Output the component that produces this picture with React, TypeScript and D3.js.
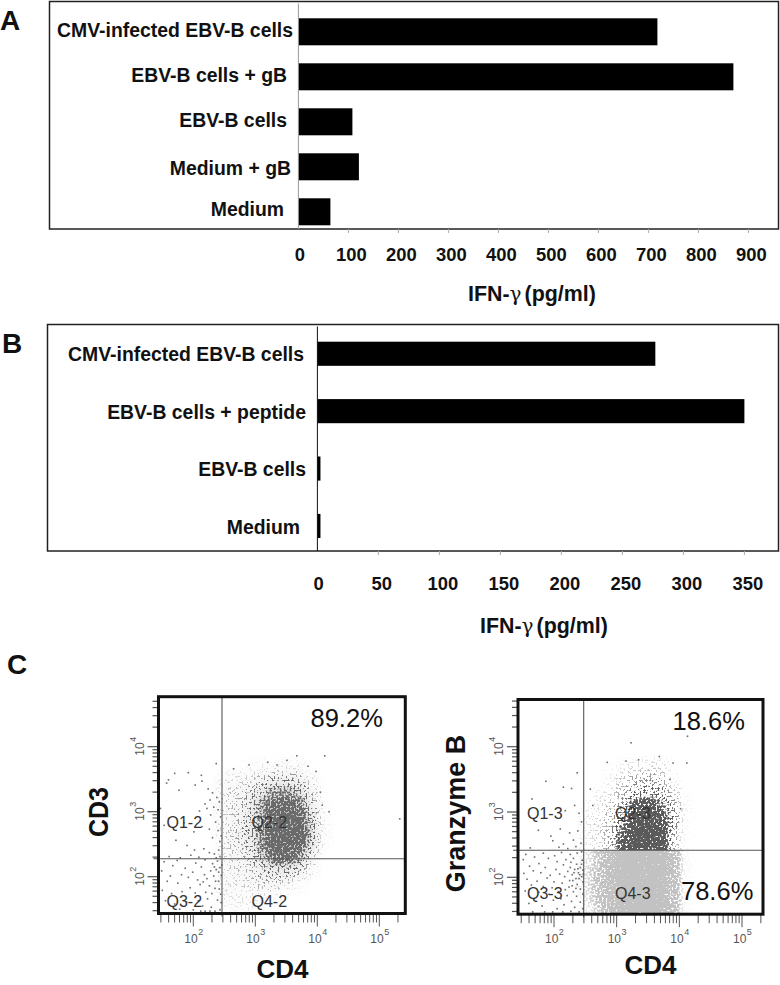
import React from "react";
import * as d3 from "d3";

// ---------- Panel A ----------
const catsA = ["CMV-infected EBV-B cells", "EBV-B cells + gB", "EBV-B cells", "Medium + gB", "Medium"];
const valsA = [718, 870, 108, 121, 64];
const labelRightA = [293, 287, 287, 291, 284];
const labelBaseA = [36.7, 81.5, 126.5, 175, 216];
const ticksA = [0, 100, 200, 300, 400, 500, 600, 700, 800, 900];

// ---------- Panel B ----------
const catsB = ["CMV-infected EBV-B cells", "EBV-B cells + peptide", "EBV-B cells", "Medium"];
const valsB = [277, 350, 2.5, 2.5];
const labelRightB = [304, 306, 306, 300];
const labelBaseB = [361, 419, 476, 534];
const ticksB = [0, 50, 100, 150, 200, 250, 300, 350];

// ---------- Panel C: flow cytometry, values in log10 units ----------
const gridX = [2.5, 2.7, 2.9, 3.1, 3.3, 3.5, 3.7, 3.9, 4.1];
const gridY1 = [3.7, 3.5, 3.3, 3.1, 2.9, 2.7, 2.5, 2.3, 2.1, 1.9, 1.7, 1.5];
const density1 = [
  [0, 0, 0.02, 0.03, 0.04, 0.05, 0.03, 0, 0],
  [0.05, 0.07, 0.09, 0.16, 0.24, 0.26, 0.22, 0.06, 0],
  [0.1, 0.12, 0.2, 0.36, 0.52, 0.55, 0.42, 0.16, 0.01],
  [0.1, 0.14, 0.25, 0.5, 0.8, 0.88, 0.7, 0.26, 0.02],
  [0.1, 0.16, 0.28, 0.55, 0.95, 1, 0.92, 0.36, 0.03],
  [0.1, 0.16, 0.28, 0.6, 1, 1, 1, 0.44, 0.03],
  [0.1, 0.15, 0.26, 0.55, 1, 1, 0.92, 0.36, 0.02],
  [0.08, 0.12, 0.2, 0.4, 0.66, 0.76, 0.55, 0.16, 0],
  [0.08, 0.1, 0.15, 0.24, 0.34, 0.34, 0.25, 0.05, 0],
  [0.08, 0.08, 0.1, 0.15, 0.16, 0.1, 0.04, 0, 0],
  [0.05, 0.06, 0.05, 0.06, 0.04, 0.01, 0, 0, 0],
  [0.02, 0.03, 0.03, 0.02, 0.01, 0, 0, 0, 0],
];
const gridY2Dark = [3.7, 3.5, 3.3, 3.1, 2.9, 2.7, 2.5, 2.3];
const density2Dark = [
  [0, 0, 0.01, 0.03, 0.06, 0.08, 0.07, 0.01, 0],
  [0, 0, 0.03, 0.1, 0.16, 0.18, 0.16, 0.03, 0],
  [0, 0.03, 0.06, 0.15, 0.24, 0.28, 0.26, 0.12, 0.01],
  [0.02, 0.05, 0.1, 0.22, 0.66, 0.88, 0.5, 0.2, 0.02],
  [0.04, 0.07, 0.14, 0.32, 0.95, 1, 0.8, 0.25, 0.02],
  [0.04, 0.08, 0.16, 0.55, 1, 1, 0.95, 0.2, 0.01],
  [0.03, 0.07, 0.16, 0.7, 1, 1, 1, 0.16, 0.01],
  [0.03, 0.07, 0.16, 0.7, 1, 1, 1, 0.16, 0.01],
];
const gridY2Light = [2.5, 2.3, 2.1, 1.9, 1.7, 1.5];
const density2Light = [
  [0.1, 0.26, 0.65, 1, 1, 1, 1, 0.5, 0.04],
  [0.1, 0.26, 0.65, 1, 1, 1, 1, 0.5, 0.04],
  [0.14, 0.3, 0.7, 1, 1, 1, 1, 0.5, 0.03],
  [0.14, 0.32, 0.7, 1, 1, 1, 1, 0.5, 0.03],
  [0.12, 0.3, 0.7, 1, 1, 1, 1, 0.5, 0.03],
  [0.08, 0.22, 0.6, 1, 1, 1, 1, 0.45, 0.02],
];
const sparse1 = [
  [1.6,3.49],[1.7,3.59],[1.92,3.6],[2.13,3.56],[2.37,3.74],[1.57,3.44],[1.77,3.33],[2.03,3.41],[2.14,3.47],[2.24,3.35],
  [2.31,3.29],[2.38,3.22],[2.42,3.15],[2.27,3.18],[2.19,3.12],[2.33,3.07],[2.4,3.03],[2.1,3.01],[2.22,3.05],[2.28,2.95],
  [2.44,2.92],[2.36,2.84],[1.47,3.05],[1.85,2.83],[2.01,2.69],[2.14,2.77],[2.26,2.73],[2.4,2.71],[2.31,2.6],[2.43,2.54],
  [1.53,2.79],[1.72,2.56],[1.9,2.48],[2.02,2.41],[2.17,2.43],[2.26,2.37],[2.34,2.35],[1.61,2.31],[1.79,2.29],[1.96,2.33],
  [2.09,2.3],[2.37,2.29],[2.43,2.31],[2.41,2.41],[2.45,2.63],
  [1.53,2.23],[1.67,2.17],[1.74,2.25],[1.87,2.13],[2.04,2.21],[2.19,2.26],[2.31,2.2],[2.39,2.24],[2.43,2.14],[2.37,2.11],
  [2.28,2.09],[2.13,2.15],[1.99,2.07],[1.81,2.03],[1.63,2.01],[1.49,2.09],[1.58,1.93],[1.75,1.9],[1.92,1.99],[2.07,1.95],
  [2.18,2.03],[2.33,2.01],[2.45,2.02],[2.41,1.93],[2.26,1.86],[2.11,1.88],[1.95,1.83],[1.82,1.77],[1.65,1.74],[1.5,1.79],
  [2.03,1.75],[2.2,1.76],[2.35,1.82],[2.44,1.73],[2.39,1.64],[2.23,1.66],[2.08,1.63],[1.89,1.61],[1.7,1.58],[1.55,1.63],
  [1.78,1.5],[2.0,1.49],[2.15,1.55],[2.29,1.53],[2.43,1.49],[2.19,1.47],[2.27,1.47],[2.35,1.47],[2.12,1.47],[2.45,1.6],
  [2.22,1.97],[2.36,1.93],[2.3,1.74],[2.42,1.81],[2.46,2.18],[2.34,2.15],[2.16,1.92],[2.41,2.07],
  [4.12,3.86],[5.33,2.89],[4.19,3.0],[3.51,3.79],[3.67,3.86],[3.98,3.62],[4.08,3.1],[4.05,3.3],[2.65,3.66],[2.9,3.72],
  [3.2,3.76],[3.35,3.72],[3.85,3.7],
];
const sparse2 = [
  [2.37,3.6],[1.87,3.47],[2.15,3.38],[2.28,3.36],[1.65,3.2],[2.33,3.1],[2.18,3.02],[2.4,2.98],[2.44,2.85],[1.75,2.72],
  [1.95,2.63],[2.1,2.74],[2.25,2.68],[2.38,2.71],[1.98,2.56],[2.15,2.51],[2.31,2.57],[2.43,2.52],[2.08,2.46],[2.22,2.44],
  [1.62,2.45],[2.35,2.47],
  [1.55,2.35],[1.69,2.31],[1.83,2.37],[2.01,2.33],[2.12,2.38],[2.26,2.35],[2.37,2.37],[2.44,2.39],[2.31,2.29],[2.19,2.27],
  [2.05,2.24],[1.91,2.29],[1.76,2.21],[1.51,2.27],[1.61,2.17],[1.86,2.15],[2.03,2.12],[2.15,2.19],[2.27,2.23],[2.36,2.2],
  [2.45,2.26],[2.42,2.15],[2.33,2.12],[2.22,2.09],[2.09,2.05],[1.94,2.03],[1.79,2.07],[1.67,2.1],[1.52,2.06],[1.57,1.97],
  [1.73,1.94],[1.89,1.99],[2.0,1.93],[2.17,2.01],[2.29,2.04],[2.39,2.07],[2.46,2.11],[2.44,2.01],[2.35,1.98],[2.25,1.95],
  [2.13,1.91],[1.97,1.84],[1.83,1.86],[1.64,1.88],[2.37,1.89],[2.46,1.93],[2.29,1.87],[2.18,1.81],[2.07,1.78],[1.92,1.74],
  [1.76,1.77],[1.54,1.79],[2.31,1.78],[2.42,1.82],[2.21,1.72],[2.36,1.71],[2.46,1.74],[2.11,1.67],[1.99,1.65],[2.28,1.63],
  [2.42,1.62],[2.16,1.58],[1.6,1.6],[1.81,1.56],[2.05,1.52],[2.33,1.54],[2.46,1.52],[1.66,1.47],[1.85,1.47],[1.98,1.47],
  [2.14,1.47],[2.27,1.48],[2.4,1.47],[2.38,2.13],[2.41,2.04],[2.32,2.07],[2.26,2.15],[2.44,2.2],[2.35,1.83],[2.24,1.85],
  [2.4,1.98],[2.47,2.05],[2.3,1.95],
  [3.23,4.06],[4.13,4.16],[3.68,3.85],[3.9,3.75],[4.12,3.75],[2.85,3.76],[3.15,3.78],[3.35,3.8],[2.58,3.35],[2.62,3.1],
  [3.85,3.5],[4.02,3.05],
];
const quadrantLabels1 = ["Q1-2", "Q2-2", "Q3-2", "Q4-2"];
const quadrantLabels2 = ["Q1-3", "Q2-3", "Q3-3", "Q4-3"];
const decades = [2, 3, 4, 5];
const yDecades = [2, 3, 4];

const FF = "'Liberation Sans', Arial, sans-serif";

function Bars({ cats, vals, ticks, x, y, box, labelRight, labelBase, titleX, titleY, tickLabelY, tickShift, axisColor }: any) {
  return (
    <g fontFamily={FF}>
      <rect x={box.l} y={box.t} width={box.r - box.l} height={box.b - box.t} fill="none" stroke="#222" strokeWidth={1.5} />
      {cats.map((c: string, i: number) => (
        <rect key={c} x={x(0)} y={y(c)} width={x(vals[i]) - x(0)} height={y.bandwidth()} fill="#000" />
      ))}
      <line x1={x(0)} x2={x(0)} y1={box.t + 2} y2={box.b} stroke={axisColor} strokeWidth={1} />
      {ticks.map((t: number) => (
        <g key={t}>
          {t > 0 && <line x1={x(t)} x2={x(t)} y1={box.b} y2={box.b + 4} stroke="#aaa" />}
          <text x={x(t) + tickShift(t)} y={tickLabelY} textAnchor="middle" fontWeight="bold" fontSize={18.4} fill="#111">{t}</text>
        </g>
      ))}
      {cats.map((c: string, i: number) => (
        <text key={c} x={labelRight[i]} y={labelBase[i]} textAnchor="end" fontWeight="bold" fontSize={19.4} fill="#111">{c}</text>
      ))}
      <text x={titleX} y={titleY} fontWeight="bold" fontSize={21.4} fill="#111">
        IFN-<tspan fontFamily="'DejaVu Serif', serif" fontWeight="normal" fontSize={20}>γ</tspan><tspan dx={3}>(pg/ml)</tspan>
      </text>
    </g>
  );
}

function DensityCells({ xs, ys, grid, sx, sy, fill, opacity = 1 }: any) {
  const hw = 0.1;
  return (
    <>
      {ys.flatMap((yv: number, r: number) =>
        xs.map((xv: number, c: number) => {
          const d = grid[r][c];
          if (!d) return null;
          const x0 = sx(10 ** (xv - hw));
          const x1 = sx(10 ** (xv + hw));
          const y0 = sy(10 ** (yv + hw));
          const y1 = sy(10 ** (yv - hw));
          return <rect key={`${r}-${c}`} x={x0} y={y0} width={x1 - x0} height={y1 - y0} fill={fill} fillOpacity={d * opacity} />;
        })
      )}
    </>
  );
}

function Stipple({ id, color, box, seed, blur, offset }: any) {
  // Grain is only a rendering texture over the density cells above; it carries no data.
  return (
    <filter id={id} filterUnits="userSpaceOnUse" x={box.l} y={box.t} width={box.r - box.l} height={box.b - box.t} colorInterpolationFilters="sRGB">
      <feGaussianBlur in="SourceAlpha" stdDeviation={blur} result="d" />
      <feTurbulence type="fractalNoise" baseFrequency="0.5" numOctaves={1} seed={seed} result="t" />
      <feColorMatrix in="t" type="matrix" values={`0 0 0 0 0  0 0 0 0 0  0 0 0 0 0  2.8 0 0 0 ${offset}`} result="n" />
      <feComposite in="n" in2="d" operator="arithmetic" k1={0} k2={1} k3={1} k4={-1} result="s" />
      <feComponentTransfer in="s" result="m"><feFuncA type="linear" slope={4} /></feComponentTransfer>
      <feFlood floodColor={color} />
      <feComposite in2="m" operator="in" />
      <feGaussianBlur stdDeviation={0.4} />
    </filter>
  );
}

function Flow({ id, box, sx, sy, gateX, gateY, labels, qx, qy, sparse, children, defs }: any) {
  const xT = sx.ticks();
  const yT = sy.ticks();
  const isMajor = (t: number) => Math.abs(Math.log10(t) - Math.round(Math.log10(t))) < 1e-6;
  return (
    <g fontFamily={FF}>
      <defs>
        <clipPath id={`${id}-clip`}><rect x={box.l} y={box.t} width={box.r - box.l} height={box.b - box.t} /></clipPath>
        {defs}
      </defs>
      <g clipPath={`url(#${id}-clip)`}>
        {children}
        {sparse.map((p: number[], i: number) => (
          <rect key={i} x={sx(10 ** p[0]) - 0.8} y={sy(10 ** p[1]) - 0.8} width={1.6} height={1.6} fill="#4a4a4a" fillOpacity={0.8} />
        ))}
      </g>
      {labels.map((l: string, i: number) => (
        <text key={l} x={qx[i % 2]} y={qy[i < 2 ? 0 : 1]} fontSize={16} fill="#333">{l}</text>
      ))}
      <line x1={gateX} x2={gateX} y1={box.t} y2={box.b + 3} stroke="#555" strokeWidth={1.1} />
      <line x1={box.l - 5} x2={box.r} y1={gateY} y2={gateY} stroke="#555" strokeWidth={1.1} />
      {xT.map((t: number, i: number) => (
        <line key={i} x1={sx(t)} x2={sx(t)} y1={box.b} y2={box.b + (isMajor(t) ? 13 : 9)} stroke="#555" strokeWidth={1} />
      ))}
      {yT.map((t: number, i: number) => (
        <line key={i} x1={box.l} x2={box.l - (isMajor(t) ? 11 : 6)} y1={sy(t)} y2={sy(t)} stroke="#555" strokeWidth={1.2} />
      ))}
      {decades.map((d) => (
        <text key={d} x={sx(10 ** d) - 9} y={box.b + 29} fontSize={12} fill="#555">
          10<tspan dx={0.5} dy={-8} fontSize={9}>{d}</tspan>
        </text>
      ))}
      {yDecades.map((d) => (
        <text key={d} transform={`translate(${box.l - 15},${sy(10 ** d) + 9}) rotate(-90)`} fontSize={12} fill="#555">
          10<tspan dx={0.5} dy={-8} fontSize={9}>{d}</tspan>
        </text>
      ))}
      <rect x={box.l} y={box.t} width={box.r - box.l} height={box.b - box.t} fill="none" stroke="#111" strokeWidth={3} />
    </g>
  );
}

export default function App() {
  const boxA = { l: 49.5, r: 778.5, t: 1.5, b: 229 };
  const xA = d3.scaleLinear().domain([0, 900]).range([298.4, 748.4]);
  const yA = d3.scaleBand().domain(catsA).range([18.3, 225.3]).paddingInner(0.4).paddingOuter(0);

  const boxB = { l: 47.5, r: 778.5, t: 324.5, b: 551 };
  const xB = d3.scaleLinear().domain([0, 350]).range([317.4, 744.4]);
  const yB = d3.scaleBand().domain(catsB).range([341.7, 538]).paddingInner(0.58).paddingOuter(0);

  const box1 = { l: 158.5, r: 405.3, t: 696.7, b: 913.5 };
  const sx1 = d3.scaleLog().domain([10 ** 2, 10 ** 5]).range([193.3, 379.3]);
  const sy1 = d3.scaleLog().domain([10 ** 2, 10 ** 4]).range([876.7, 746.7]);
  const sx1a = d3.scaleLog().domain([sx1.invert(box1.l), sx1.invert(box1.r)]).range([box1.l, box1.r]);
  const sy1a = d3.scaleLog().domain([sy1.invert(box1.b), sy1.invert(box1.t)]).range([box1.b, box1.t]);

  const box2 = { l: 518, r: 763, t: 699.5, b: 914.2 };
  const sx2 = d3.scaleLog().domain([10 ** 2, 10 ** 5]).range([554, 742]);
  const sy2 = d3.scaleLog().domain([10 ** 2, 10 ** 4]).range([877.3, 746.7]);
  const sx2a = d3.scaleLog().domain([sx2.invert(box2.l), sx2.invert(box2.r)]).range([box2.l, box2.r]);
  const sy2a = d3.scaleLog().domain([sy2.invert(box2.b), sy2.invert(box2.t)]).range([box2.b, box2.t]);
  const gate2Y = 850.3;

  return (
    <svg width={780} height={985} style={{ position: "absolute", left: 0, top: 0, background: "#fff" }}>
      <defs>
        <filter id="soft" filterUnits="userSpaceOnUse" x={0} y={680} width={780} height={305}>
          <feGaussianBlur stdDeviation={4} />
        </filter>
      </defs>

      <g fontFamily={FF} fontWeight="bold" fontSize={28} fill="#111">
        <text x={0} y={30}>A</text>
        <text x={2} y={353}>B</text>
        <text x={7} y={674}>C</text>
      </g>

      <Bars cats={catsA} vals={valsA} ticks={ticksA} x={xA} y={yA} box={boxA} labelRight={labelRightA} labelBase={labelBaseA}
        titleX={468} titleY={301} tickLabelY={261} tickShift={(t: number) => (t === 0 ? 1.5 : 3)} axisColor="#999" />
      <Bars cats={catsB} vals={valsB} ticks={ticksB} x={xB} y={yB} box={boxB} labelRight={labelRightB} labelBase={labelBaseB}
        titleX={480} titleY={633} tickLabelY={590} tickShift={(t: number) => (t === 0 ? 1.2 : 3.4)} axisColor="#111" />

      <Flow id="f1" box={box1} sx={sx1a} sy={sy1a} gateX={222} gateY={858.7} labels={quadrantLabels1} qx={[166.5, 251.5]} qy={[828, 906.5]} sparse={sparse1}
        defs={<Stipple id="st1" color="#6a6a6a" box={box1} seed={4} blur={3.5} offset={-0.8} />}>
        <g filter="url(#soft)"><DensityCells xs={gridX} ys={gridY1} grid={density1} sx={sx1a} sy={sy1a} fill="#8a8a8a" opacity={0.5} /></g>
        <g filter="url(#st1)"><DensityCells xs={gridX} ys={gridY1} grid={density1} sx={sx1a} sy={sy1a} fill="#000" /></g>
      </Flow>
      <text x={310.5} y={726.5} fontFamily={FF} fontSize={25.5} fill="#111">89.2%</text>
      <text transform="translate(108,812) rotate(-90)" textAnchor="middle" fontFamily={FF} fontWeight="bold" fontSize={28} textLength={50} lengthAdjust="spacingAndGlyphs" fill="#111">CD3</text>
      <text x={282.5} y={977.5} textAnchor="middle" fontFamily={FF} fontWeight="bold" fontSize={26} fill="#111">CD4</text>

      <Flow id="f2" box={box2} sx={sx2a} sy={sy2a} gateX={583.7} gateY={gate2Y} labels={quadrantLabels2} qx={[527, 615]} qy={[819, 899]} sparse={sparse2}
        defs={
          <>
            <Stipple id="st2d" color="#5a5a5a" box={box2} seed={9} blur={3} offset={-0.72} />
            <Stipple id="st2l" color="#c2c2c2" box={box2} seed={12} blur={3.5} offset={-0.5} />
            <clipPath id="f2-upper"><rect x={box2.l} y={box2.t} width={box2.r - box2.l} height={gate2Y - box2.t} /></clipPath>
            <clipPath id="f2-lower"><rect x={box2.l} y={gate2Y} width={box2.r - box2.l} height={box2.b - gate2Y} /></clipPath>
          </>
        }>
        <g clipPath="url(#f2-lower)">
          <g filter="url(#st2l)"><DensityCells xs={gridX} ys={gridY2Light} grid={density2Light} sx={sx2a} sy={sy2a} fill="#000" /></g>
        </g>
        <g clipPath="url(#f2-upper)">
          <g filter="url(#st2d)"><DensityCells xs={gridX} ys={gridY2Dark} grid={density2Dark} sx={sx2a} sy={sy2a} fill="#000" /></g>
        </g>
      </Flow>
      <text x={672.5} y={730} fontFamily={FF} fontSize={25.5} fill="#111">18.6%</text>
      <text x={681} y={900} fontFamily={FF} fontSize={25.5} fill="#111">78.6%</text>
      <text transform="translate(465,813.5) rotate(-90)" textAnchor="middle" fontFamily={FF} fontWeight="bold" fontSize={27} fill="#111">Granzyme B</text>
      <text x={650.5} y={974} textAnchor="middle" fontFamily={FF} fontWeight="bold" fontSize={26} fill="#111">CD4</text>
    </svg>
  );
}
